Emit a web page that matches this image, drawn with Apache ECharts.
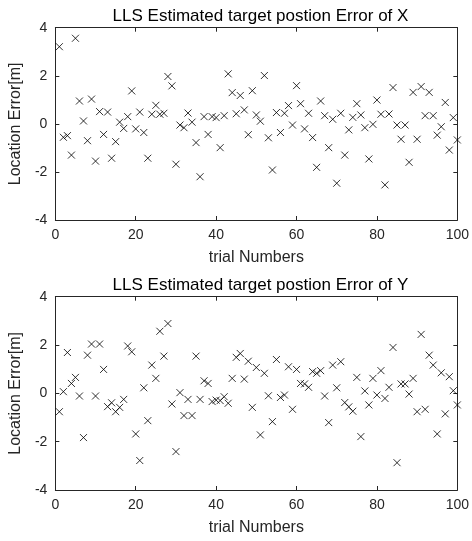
<!DOCTYPE html>
<html>
<head>
<meta charset="utf-8">
<script src="https://cdn.jsdelivr.net/npm/echarts@6/dist/echarts.min.js"></script>
<style>
html,body{margin:0;padding:0;background:#fff;}
#chart{width:472px;height:541px;}
</style>
</head>
<body>
<div id="chart"></div>
<script>
// Error of X for trials 1..100
var errX = [3.21,-0.56,-0.49,-1.30,3.56,0.95,0.12,-0.70,1.03,-1.55,
            0.51,-0.44,0.49,-1.43,-0.74,0.07,-0.19,0.30,1.37,-0.21,
            0.49,-0.36,-1.43,0.40,0.77,0.40,0.44,1.97,1.58,-1.68,
            -0.05,-0.16,0.45,0.07,-0.78,-2.20,0.30,-0.44,0.30,0.26,
            -0.99,0.34,2.08,1.30,0.42,1.18,0.58,-0.45,1.38,0.37,
            0.11,2.01,-0.58,-1.92,0.47,-0.36,0.44,0.76,-0.05,1.59,
            0.84,-0.21,0.44,-0.57,-1.81,0.95,0.34,-0.99,0.19,-2.47,
            0.44,-1.30,-0.25,0.27,0.84,0.37,-0.16,-1.46,-0.02,0.99,
            0.40,-2.54,0.41,1.51,-0.05,-0.64,-0.05,-1.60,1.31,-0.64,
            1.55,0.34,1.31,0.34,-0.47,-0.12,0.89,-1.09,0.26,-0.67];
// Error of Y for trials 1..100
var errY = [-0.76,0.07,1.69,0.41,0.66,-0.11,-1.83,1.58,2.04,-0.11,
            2.04,0.99,-0.55,-0.39,-0.76,-0.58,-0.25,1.96,1.72,-1.68,
            -2.78,0.23,-1.13,1.17,0.62,2.57,1.54,2.89,-0.44,-2.41,
            0.03,-0.92,-0.25,-0.92,1.54,-0.25,0.52,0.41,-0.34,-0.28,
            -0.30,-0.14,-0.41,0.62,1.49,1.65,0.59,1.33,-0.58,1.07,
            -1.72,0.83,-0.10,-1.17,1.40,-0.17,-0.07,1.10,-0.66,0.99,
            0.41,0.39,0.25,0.90,0.83,0.94,-0.11,-1.21,1.17,0.23,
            1.31,-0.38,-0.56,-0.74,0.66,-1.79,0.10,-0.48,0.62,-0.07,
            0.94,-0.21,0.25,1.90,-2.87,0.39,0.39,-0.03,0.62,-0.76,
            2.44,-0.66,1.58,1.17,-1.68,0.85,-0.85,0.69,0.11,-0.48];
var titles = ['LLS Estimated target postion Error of X', 'LLS Estimated target postion Error of Y'];
var xName = 'trial Numbers';
var yName = 'Location Error[m]';
var xRange = [0, 100, 20];
var yRange = [-4, 4, 2];

var axisColor = '#262626';
var font = 'Liberation Sans, Arial, Helvetica, sans-serif';
function toPts(arr){ return arr.map(function(v,i){ return [i+1, v]; }); }
var xMark = 'path://M0,0L10,10M10,0L0,10';

var grids = [
  {left: 51.8, right: 12.7, top: 27.7, height: 192.3},
  {left: 51.8, right: 12.7, top: 296.7, height: 193.3}
];
var xAxes = [], yAxes = [], series = [], titleArr = [];
[errX, errY].forEach(function(data, g){
  xAxes.push({
    gridIndex: g, type: 'value', min: xRange[0], max: xRange[1], interval: xRange[2],
    position: 'bottom',
    name: xName, nameLocation: 'middle', nameGap: 30,
    nameTextStyle: {color: axisColor, fontSize: 16, fontFamily: font},
    axisLine: {show: true, onZero: false, lineStyle: {color: axisColor, width: 1}},
    axisTick: {show: true, inside: true, length: 4, lineStyle: {color: axisColor}},
    axisLabel: {color: axisColor, fontSize: 14, fontFamily: font, margin: 8},
    splitLine: {show: false}
  });
  xAxes.push({
    gridIndex: g, type: 'value', min: xRange[0], max: xRange[1], interval: xRange[2],
    position: 'top',
    axisLine: {show: true, onZero: false, lineStyle: {color: axisColor, width: 1}},
    axisTick: {show: true, inside: true, length: 4, lineStyle: {color: axisColor}},
    axisLabel: {show: false}, splitLine: {show: false}
  });
  yAxes.push({
    gridIndex: g, type: 'value', min: yRange[0], max: yRange[1], interval: yRange[2],
    position: 'left',
    name: yName, nameLocation: 'middle', nameGap: 28, nameRotate: 90,
    nameTextStyle: {color: axisColor, fontSize: 16, fontFamily: font},
    axisLine: {show: true, onZero: false, lineStyle: {color: axisColor, width: 1}},
    axisTick: {show: true, inside: true, length: 4, lineStyle: {color: axisColor}},
    axisLabel: {color: axisColor, fontSize: 14, fontFamily: font, margin: 8},
    splitLine: {show: false}
  });
  yAxes.push({
    gridIndex: g, type: 'value', min: yRange[0], max: yRange[1], interval: yRange[2],
    position: 'right',
    axisLine: {show: true, onZero: false, lineStyle: {color: axisColor, width: 1}},
    axisTick: {show: true, inside: true, length: 4, lineStyle: {color: axisColor}},
    axisLabel: {show: false}, splitLine: {show: false}
  });
  series.push({
    type: 'scatter', xAxisIndex: g*2, yAxisIndex: g*2,
    data: toPts(data), symbol: xMark, symbolSize: 7,
    itemStyle: {color: 'rgba(0,0,0,0)', borderColor: '#000', borderWidth: 1},
    silent: true, animation: false
  });
  titleArr.push({
    text: titles[g], left: 255.5, top: g === 0 ? 3 : 272, textAlign: 'center',
    textStyle: {color: '#000', fontSize: 17, fontWeight: 'normal', fontFamily: font}
  });
});

var chart = echarts.init(document.getElementById('chart'), null, {renderer: 'canvas'});
chart.setOption({
  animation: false,
  backgroundColor: '#fff',
  title: titleArr,
  grid: grids,
  xAxis: xAxes,
  yAxis: yAxes,
  series: series
});
</script>
</body>
</html>
